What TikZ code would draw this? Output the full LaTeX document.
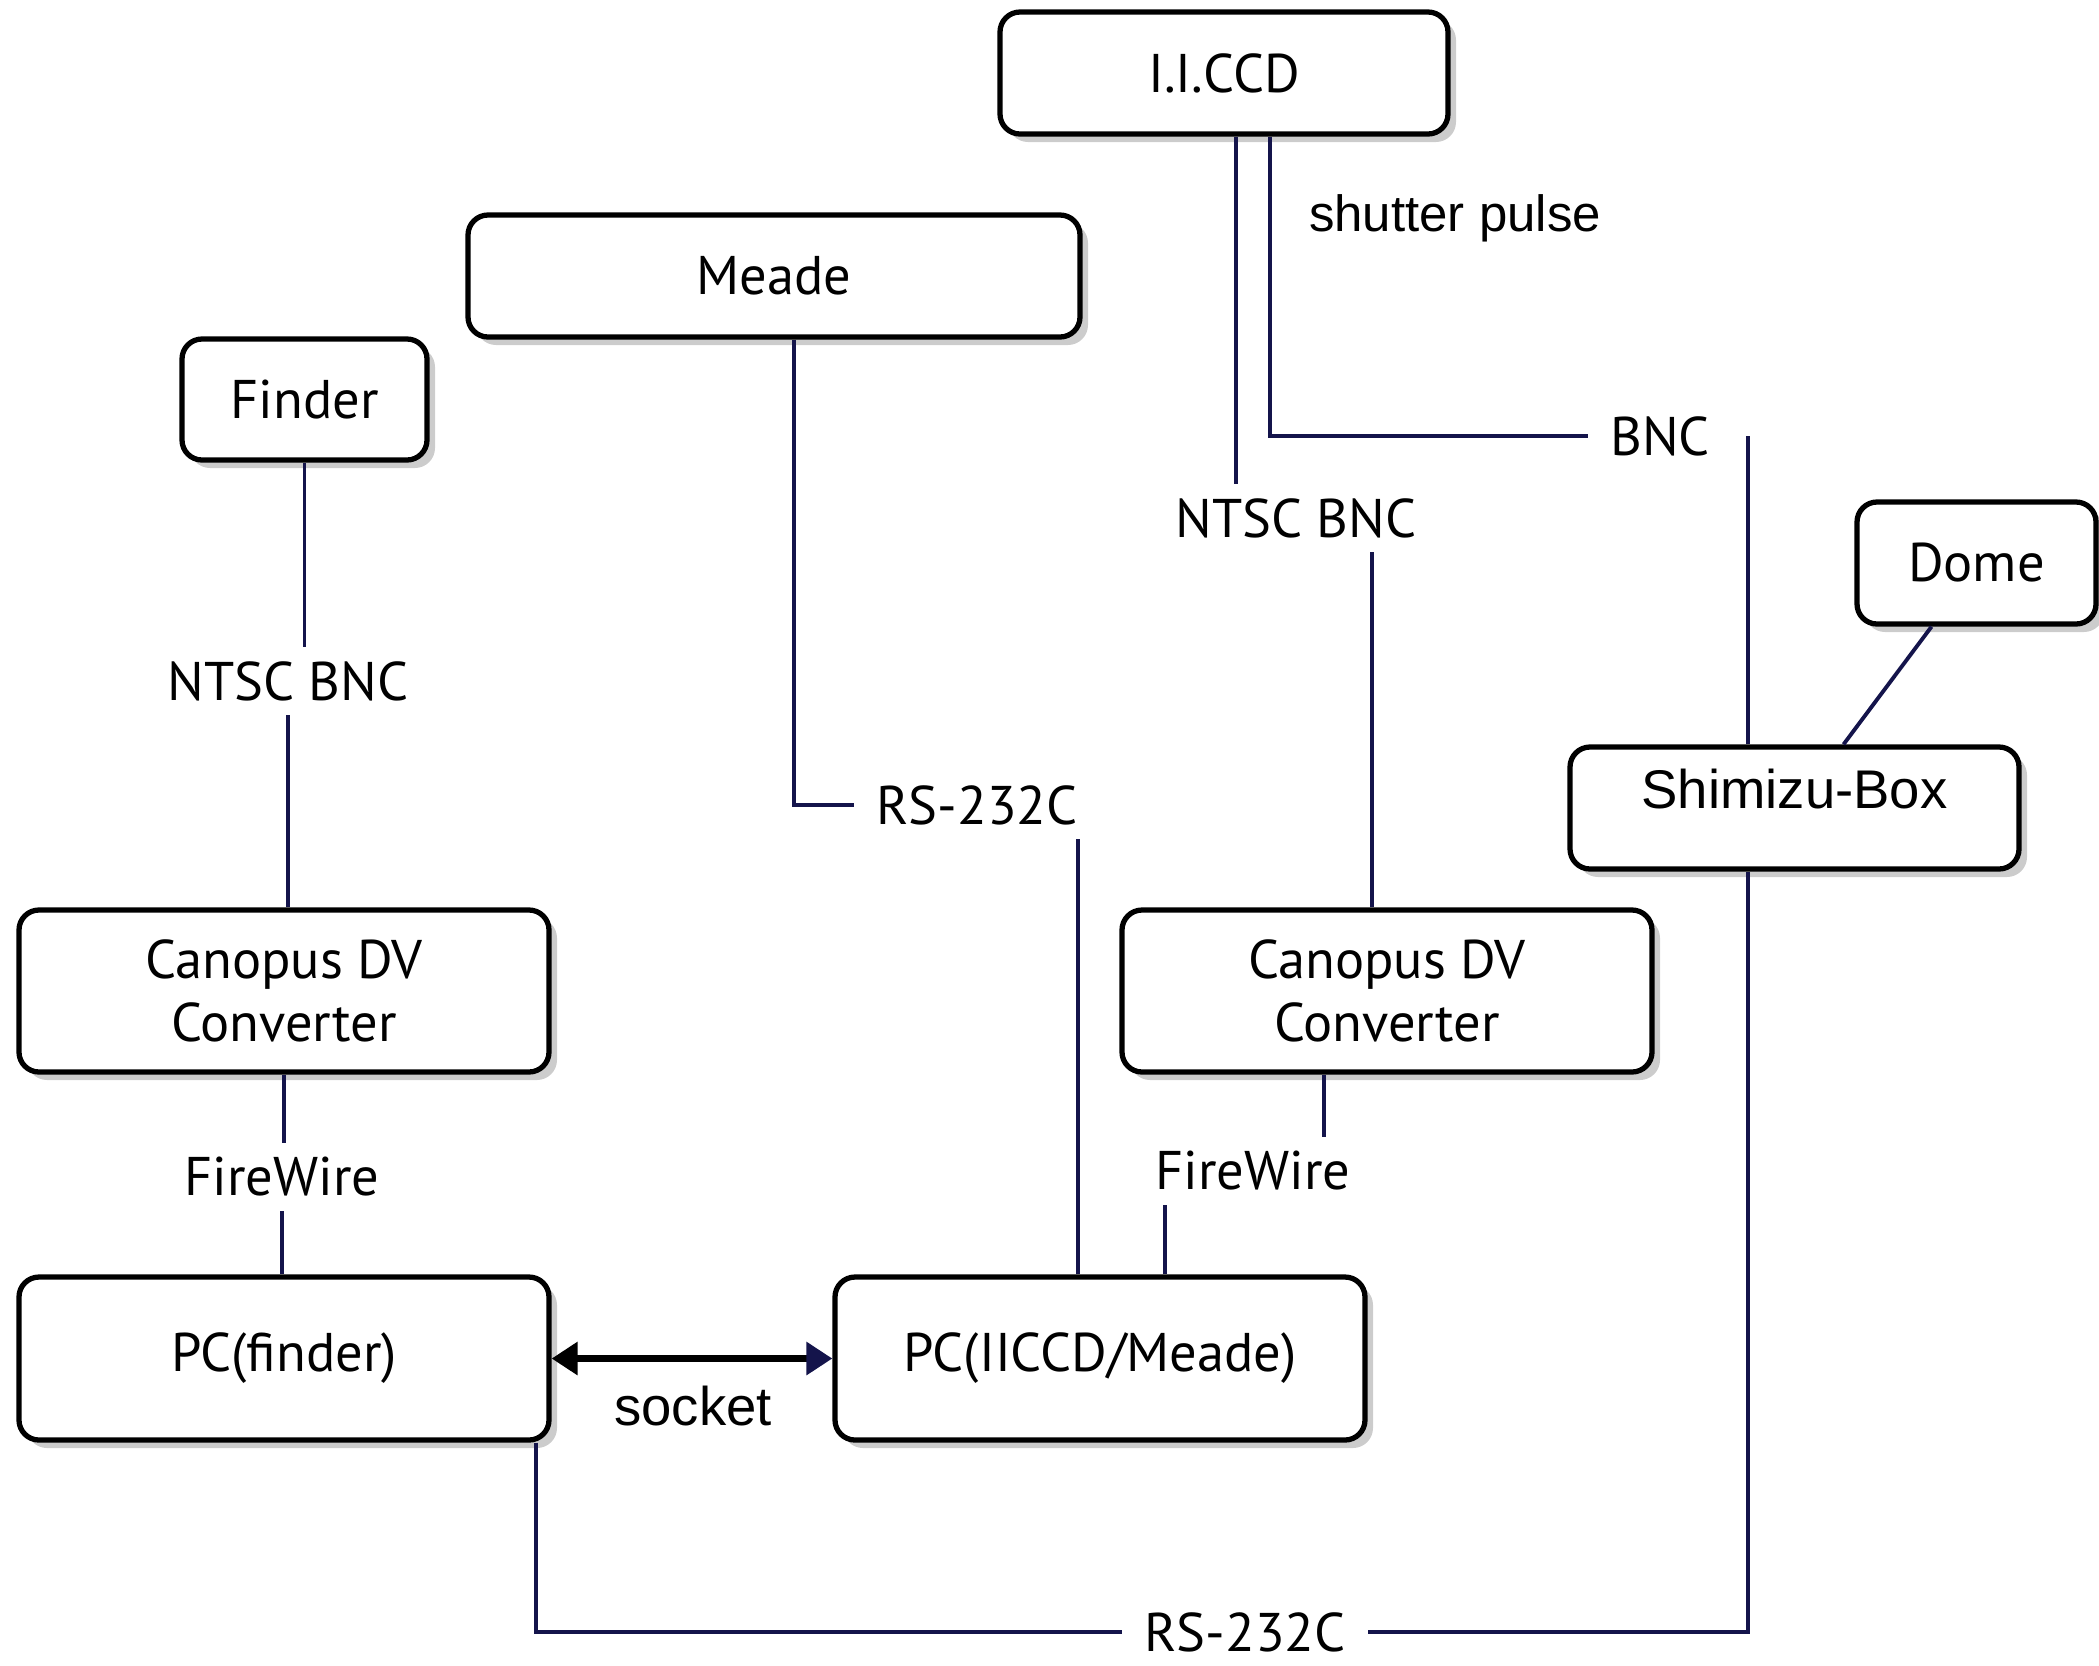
\documentclass[tikz,border=0pt]{standalone}
\usepackage{fontspec}
\setmainfont{PT Sans}
\newfontfamily\arialfont{Liberation Sans}
\usetikzlibrary{shadows,arrows.meta}
\definecolor{wirecol}{RGB}{20,20,75}
\begin{document}
\begin{tikzpicture}[
    box/.style={draw, rectangle, rounded corners=0.2cm, line width=1.5pt, fill=white, align=center,
      font=\fontsize{15.5}{18}\selectfont,
      drop shadow={shadow xshift=0.08cm, shadow yshift=-0.08cm, opacity=0.4}},
    tag/.style={inner xsep=0.22cm, inner ysep=0.14cm, font=\fontsize{15.5}{18}\selectfont},
    wire/.style={draw=wirecol, line width=1.1pt}
  ]
  \useasboundingbox (0,0) rectangle (20.99,-16.65);
  % boxes
  \node[box, minimum width=4.48cm, minimum height=1.22cm] (iiccd) at (12.24,-0.73) {I.I.CCD};
  \node[box, minimum width=6.12cm, minimum height=1.22cm] (meade) at (7.74,-2.76) {Meade};
  \node[box, minimum width=2.45cm, minimum height=1.21cm] (finder) at (3.045,-3.995) {Finder};
  \node[box, minimum width=2.39cm, minimum height=1.22cm] (dome) at (19.765,-5.63) {Dome};
  \node[box, minimum width=4.49cm, minimum height=1.22cm, inner ysep=0pt, text height=0.4cm, text depth=0.4cm,
    font=\arialfont\fontsize{15.5}{18}\selectfont] (shimizu) at (17.945,-8.08) {Shimizu-Box};
  \node[box, minimum width=5.30cm, minimum height=1.62cm] (canL) at (2.84,-9.91) {Canopus DV\\Converter};
  \node[box, minimum width=5.30cm, minimum height=1.62cm] (canR) at (13.87,-9.91) {Canopus DV\\Converter};
  \node[box, minimum width=5.30cm, minimum height=1.63cm] (pcF) at (2.84,-13.585) {PC(finder)};
  \node[box, minimum width=5.30cm, minimum height=1.63cm] (pcI) at (11.00,-13.585) {PC(IICCD/Meade)};
  % cable labels
  \node[tag] (ntscL) at (2.88,-6.81) {NTSC BNC};
  \node[tag] (fwL) at (2.82,-11.77) {FireWire};
  \node[tag, font=\arialfont\fontsize{15.5}{18}\selectfont] (socket) at (6.93,-14.06) {socket};
  \node[tag, inner ysep=0.02cm] (rsB) at (12.45,-16.32) {RS-232C};
  \node[tag] (rsM) at (9.77,-8.05) {RS-232C};
  \node[tag] (ntscR) at (12.96,-5.18) {NTSC BNC};
  \node[tag] (fwR) at (12.53,-11.71) {FireWire};
  \node[tag] (bnc) at (16.60,-4.36) {BNC};
  \node[tag, font=\arialfont\fontsize{14.5}{17}\selectfont] (shutter) at (14.55,-2.18) {shutter pulse};
  % cables
  \draw[wire] (finder.south) -- (finder.south |- ntscL.north);
  \draw[wire] (ntscL.south) -- (ntscL.south |- canL.north);
  \draw[wire] (canL.south) -- (canL.south |- fwL.north);
  \draw[wire] (fwL.south) -- (fwL.south |- pcF.north);
  \draw[wire] ([xshift=0.2cm]meade.south) |- (rsM.west);
  \draw[wire] ([xshift=-0.22cm]pcI.north) -- ([xshift=-0.22cm]pcI.north |- rsM.south);
  \draw[wire] ([xshift=0.65cm]pcI.north) -- ([xshift=0.65cm]pcI.north |- fwR.south);
  \draw[wire] ([xshift=-0.63cm]canR.south) -- ([xshift=-0.63cm]canR.south |- fwR.north);
  \draw[wire] ([xshift=0.12cm]iiccd.south) -- ([xshift=0.12cm]iiccd.south |- ntscR.north);
  \draw[wire] ([xshift=-0.15cm]canR.north) -- ([xshift=-0.15cm]canR.north |- ntscR.south);
  \draw[wire] ([xshift=0.46cm]iiccd.south) |- (bnc.west);
  \draw[wire] ([xshift=-0.465cm]shimizu.north) -- ([xshift=-0.465cm]shimizu.north |- bnc.east);
  \draw[wire] ([xshift=-0.45cm]dome.south) -- ([xshift=0.49cm]shimizu.north);
  \draw[wire] ([xshift=-0.16cm]pcF.south east) |- (rsB.west);
  \draw[wire] (rsB.east) -| ([xshift=-0.465cm]shimizu.south);
  \draw[{Triangle[length=0.26cm,width=0.32cm]}-{Triangle[length=0.26cm,width=0.32cm,color=wirecol,fill=wirecol]},
    line width=1.8pt] (pcF.east) -- (pcI.west);
\end{tikzpicture}
\end{document}
